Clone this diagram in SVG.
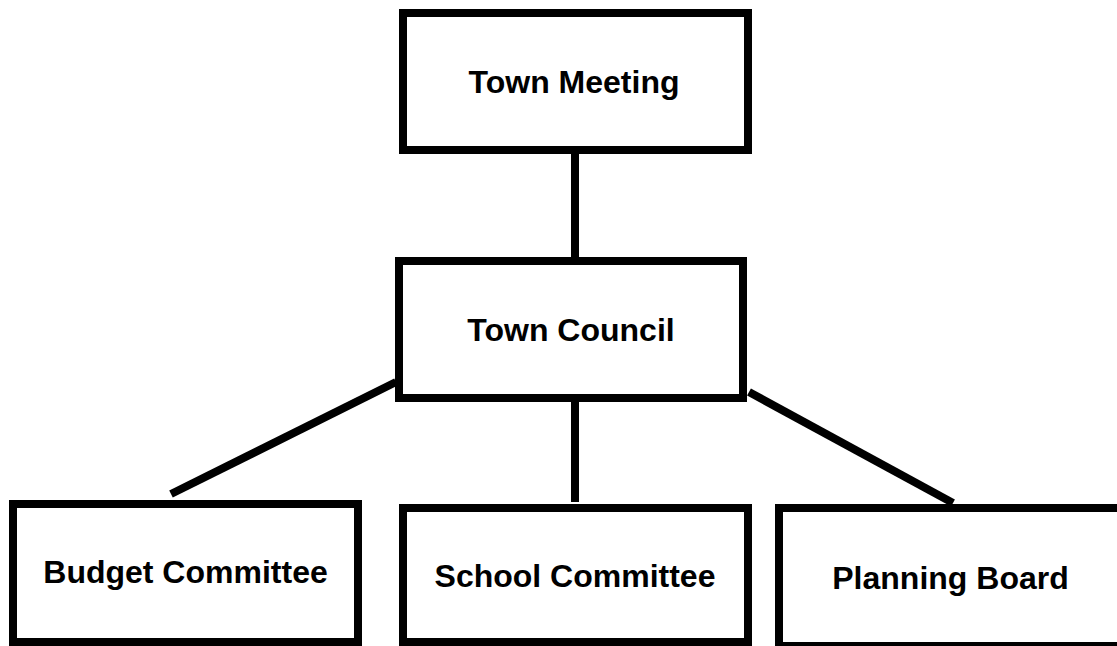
<svg xmlns="http://www.w3.org/2000/svg" width="1117" height="646" viewBox="0 0 1117 646">
<style>
.box{fill:#fff;stroke:#000;stroke-width:8}
.lbl{font-family:"Liberation Sans",Arial,sans-serif;font-weight:bold;font-size:32px;fill:#000;text-anchor:middle}
.con{stroke:#000;stroke-width:8;fill:none}
</style>
<rect width="1117" height="646" fill="#fff"/>
<g id="connectors">
<line class="con" x1="575" y1="150" x2="575" y2="261"/>
<line class="con" x1="575" y1="390" x2="575" y2="502"/>
<line class="con" x1="396" y1="382" x2="171" y2="494"/>
<line class="con" x1="749" y1="392" x2="953" y2="503"/>
</g>
<g id="town-meeting">
<rect class="box" x="403" y="13" width="345" height="137"/>
<text class="lbl" x="574" y="93">Town Meeting</text>
</g>
<g id="town-council">
<rect class="box" x="399" y="261" width="344" height="137"/>
<text class="lbl" x="571" y="341">Town Council</text>
</g>
<g id="budget-committee">
<rect class="box" x="13" y="504" width="345" height="138"/>
<text class="lbl" x="185.5" y="583">Budget Committee</text>
</g>
<g id="school-committee">
<rect class="box" x="403" y="508" width="345" height="134"/>
<text class="lbl" x="575" y="587">School Committee</text>
</g>
<g id="planning-board">
<rect class="box" x="779" y="508" width="345" height="138"/>
<text class="lbl" x="950.5" y="589">Planning Board</text>
</g>
</svg>
